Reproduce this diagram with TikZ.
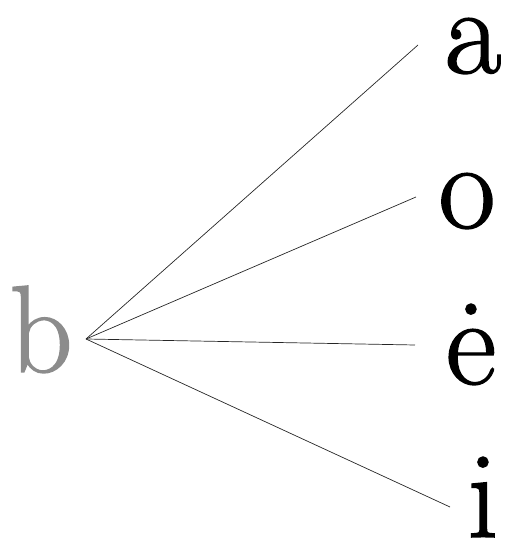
\documentclass[tikz,border=0pt]{standalone}
\usepackage{fontspec}
\newfontfamily\letterfont{Latin Modern Roman}[FakeBold=1.2]
\begin{document}
\begin{tikzpicture}[x=1pt,y=1pt,
  letter/.style={inner sep=0pt, anchor=base, font=\letterfont\fontsize{124}{124}\selectfont},
  link/.style={line width=0.7pt, black!85}]
\useasboundingbox (0,0) rectangle (506,544);
\node[letter, text=black!45] (b) at (41,172) {b};
\node[letter] (a) at (473,471) {a};
\node[letter] (o) at (467,316) {o};
\node[letter] (e) at (471,160) {ė};
\node[letter] (i) at (483,7) {i};
\coordinate (p) at (86,205);
\coordinate (ta) at (418,499);
\coordinate (to) at (416,347);
\coordinate (te) at (415,199);
\coordinate (ti) at (450,37);
\draw[link] (p) -- (ta);
\draw[link] (p) -- (to);
\draw[link] (p) -- (te);
\draw[link] (p) -- (ti);
\end{tikzpicture}
\end{document}
